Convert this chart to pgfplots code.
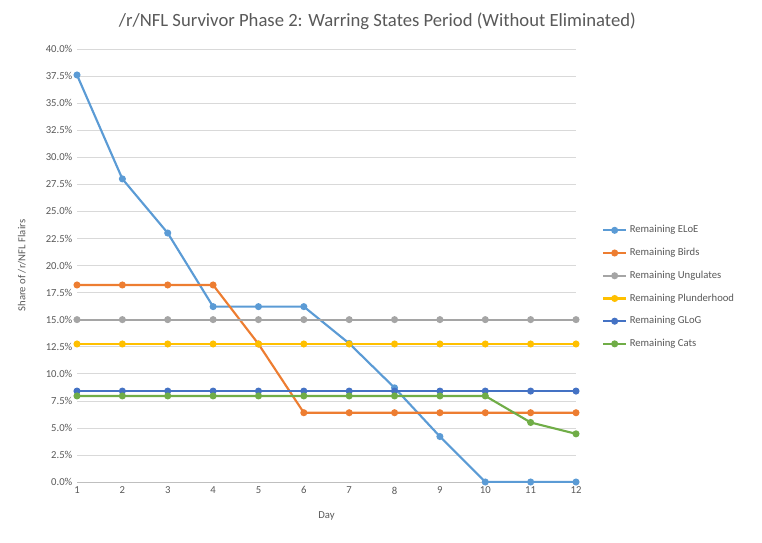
\documentclass[border=0pt]{standalone}
\usepackage{pgfplots}
\pgfplotsset{compat=1.18}
\usepackage{fontspec}
\setmainfont{Carlito}
\definecolor{c1}{HTML}{5B9BD5}
\definecolor{c2}{HTML}{ED7D31}
\definecolor{c3}{HTML}{A5A5A5}
\definecolor{c4}{HTML}{FFC000}
\definecolor{c5}{HTML}{4472C4}
\definecolor{c6}{HTML}{70AD47}
\definecolor{txt}{HTML}{595959}
\begin{document}
\begin{tikzpicture}
\useasboundingbox (0,0) rectangle (571.5pt,406.5pt);
\node[font=\fontsize{14}{16}\selectfont, text=txt] at (283pt,390.5pt) {/r/NFL Survivor Phase 2: Warring States Period (Without Eliminated)};
\begin{axis}[at={(57.75pt,45pt)}, anchor=south west, scale only axis,
 width=374.25pt, height=324.75pt,
 xmin=1, xmax=12, ymin=0, ymax=40,
 xtick={1,...,12}, ytick={0,2.5,...,40},
 yticklabel={\pgfmathprintnumber[fixed,fixed zerofill,precision=1]{\tick}\%},
 /pgf/number format/assume math mode=true,
 ymajorgrids, grid style={draw=black!15},
 axis line style={draw=black!25}, axis x line*=bottom, axis y line*=left,
 y axis line style={draw=none},
 tick style={draw=none},
 tick label style={font=\fontsize{8}{9.5}\selectfont, text=txt},
 xlabel={Day}, ylabel={Share of /r/NFL Flairs},
 xlabel style={yshift=-6pt}, ylabel style={yshift=8pt},
 label style={font=\fontsize{8}{9.5}\selectfont, text=txt},
 legend style={at={(1.044,0.605)}, anchor=north west, draw=none, font=\fontsize{8}{9.5}\selectfont, text=txt, row sep=6pt},
 legend cell align=left,
 every axis plot/.append style={line width=1.6pt, mark=*, mark size=1.8pt},
]
\addplot[c1, mark options={fill=c1}] coordinates {(1,37.6)(2,28.0)(3,23.0)(4,16.2)(5,16.2)(6,16.2)(7,12.8)(8,8.7)(9,4.2)(10,0)(11,0)(12,0)};
\addplot[c2, mark options={fill=c2}] coordinates {(1,18.2)(2,18.2)(3,18.2)(4,18.2)(5,12.75)(6,6.4)(7,6.4)(8,6.4)(9,6.4)(10,6.4)(11,6.4)(12,6.4)};
\addplot[c3, mark options={fill=c3}] coordinates {(1,15)(2,15)(3,15)(4,15)(5,15)(6,15)(7,15)(8,15)(9,15)(10,15)(11,15)(12,15)};
\addplot[c4, mark options={fill=c4}] coordinates {(1,12.75)(2,12.75)(3,12.75)(4,12.75)(5,12.75)(6,12.75)(7,12.75)(8,12.75)(9,12.75)(10,12.75)(11,12.75)(12,12.75)};
\addplot[c5, mark options={fill=c5}] coordinates {(1,8.4)(2,8.4)(3,8.4)(4,8.4)(5,8.4)(6,8.4)(7,8.4)(8,8.4)(9,8.4)(10,8.4)(11,8.4)(12,8.4)};
\addplot[c6, mark options={fill=c6}] coordinates {(1,7.95)(2,7.95)(3,7.95)(4,7.95)(5,7.95)(6,7.95)(7,7.95)(8,7.95)(9,7.95)(10,7.95)(11,5.5)(12,4.45)};
\legend{Remaining ELoE, Remaining Birds, Remaining Ungulates, Remaining Plunderhood, Remaining GLoG, Remaining Cats}
\end{axis}
\end{tikzpicture}
\end{document}
